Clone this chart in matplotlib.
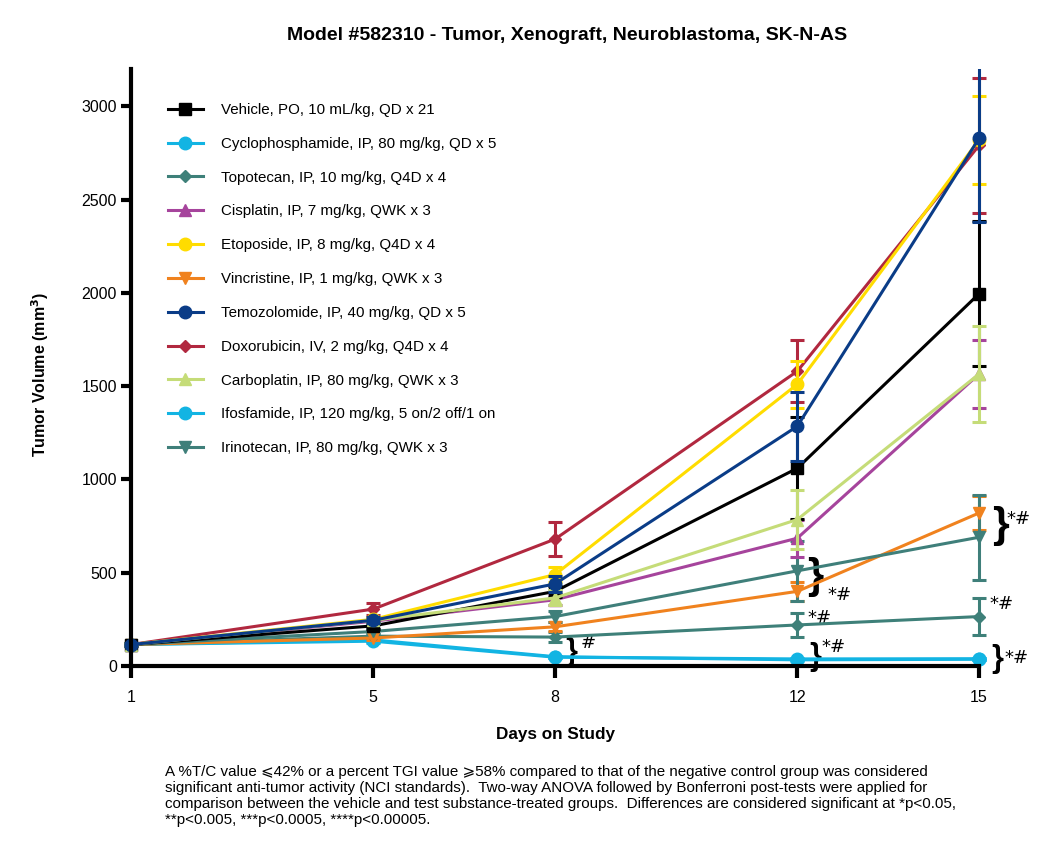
import matplotlib
matplotlib.use("Agg")
import matplotlib.pyplot as plt
from matplotlib.patches import Rectangle

plt.rcParams['font.family'] = ['Liberation Sans', 'DejaVu Sans']

days = [1, 5, 8, 12, 15]

labels = [
    "Vehicle, PO, 10 mL/kg, QD x 21",
    "Cyclophosphamide, IP, 80 mg/kg, QD x 5",
    "Topotecan, IP, 10 mg/kg, Q4D x 4",
    "Cisplatin, IP, 7 mg/kg, QWK x 3",
    "Etoposide, IP, 8 mg/kg, Q4D x 4",
    "Vincristine, IP, 1 mg/kg, QWK x 3",
    "Temozolomide, IP, 40 mg/kg, QD x 5",
    "Doxorubicin, IV, 2 mg/kg, Q4D x 4",
    "Carboplatin, IP, 80 mg/kg, QWK x 3",
    "Ifosfamide, IP, 120 mg/kg, 5 on/2 off/1 on",
    "Irinotecan, IP, 80 mg/kg, QWK x 3",
]

vehicle      = [115, 215, 400, 1060, 1995]
cyclo        = [115, 140, 50, 33, 36]
topotecan    = [115, 160, 155, 220, 265]
cisplatin    = [115, 240, 355, 685, 1565]
etoposide    = [115, 250, 490, 1510, 2820]
vincristine  = [115, 150, 210, 400, 820]
temozolomide = [115, 245, 440, 1285, 2828]
doxorubicin  = [115, 305, 680, 1580, 2790]
carboplatin  = [115, 245, 365, 785, 1565]
ifosfamide   = [115, 133, 47, 38, 39]
irinotecan   = [115, 185, 265, 510, 690]

vehicle_err      = [8, 15, 30, 273, 388]
cyclo_err        = [6, 10, 5, 5, 5]
topotecan_err    = [6, 12, 25, 65, 100]
cisplatin_err    = [6, 15, 30, 100, 180]
etoposide_err    = [6, 15, 40, 125, 236]
vincristine_err  = [6, 10, 25, 50, 90]
temozolomide_err = [6, 15, 45, 185, 446]
doxorubicin_err  = [6, 33, 92, 165, 360]
carboplatin_err  = [6, 15, 40, 160, 255]
ifosfamide_err   = [6, 8, 5, 5, 5]
irinotecan_err   = [6, 12, 30, 160, 228]

series = [vehicle, cyclo, topotecan, cisplatin, etoposide, vincristine,
          temozolomide, doxorubicin, carboplatin, ifosfamide, irinotecan]
errors = [vehicle_err, cyclo_err, topotecan_err, cisplatin_err, etoposide_err,
          vincristine_err, temozolomide_err, doxorubicin_err, carboplatin_err,
          ifosfamide_err, irinotecan_err]

colors = ['#000000', '#12b4e3', '#3e8079', '#a6449c', '#ffdc00', '#f0821e',
          '#0a3c87', '#b1283f', '#c5dc78', '#12b4e3', '#3f7f7a']
markers = ['s', 'o', 'D', '^', 'o', 'v', 'o', 'D', '^', 'o', 'v']
msizes = [9, 9, 6, 9, 9, 9, 9, 6, 9, 9, 9]
zorders = [9, 4, 5, 6, 7, 5, 10, 6, 9.5, 4, 5]

fig = plt.figure(figsize=(10.5, 8.56), dpi=100)
ax = fig.add_axes([131/1050, 1-666/856, (979-131)/1050, (666-69)/856])

clip_rect = Rectangle((-0.05, -0.05), 1.1, 1.05, transform=ax.transAxes,
                      facecolor='none', edgecolor='none')
ax.add_patch(clip_rect)

handles = []
for y, e, c, m, ms, z, lab in zip(series, errors, colors, markers, msizes, zorders, labels):
    cont = ax.errorbar(days, y, yerr=e, color=c, marker=m, markersize=ms, linewidth=2.2,
                       elinewidth=2.2, capsize=5, capthick=2.2, label=lab, zorder=z)
    line, caps, bars = cont.lines
    line.set_clip_on(False)
    for art in list(caps) + list(bars):
        art.set_clip_path(clip_rect)
    handles.append(line)

ax.set_xlim(1, 15)
ax.set_ylim(0, 3200)
ax.set_xticks(days)
ax.set_yticks([0, 500, 1000, 1500, 2000, 2500, 3000])
for s in ['top', 'right']:
    ax.spines[s].set_visible(False)
for s in ['left', 'bottom']:
    ax.spines[s].set_linewidth(3)
    ax.spines[s].set_zorder(20)
ax.tick_params(axis='x', width=3, length=8.6, labelsize=11.5, pad=9, direction='out')
ax.tick_params(axis='y', width=3, length=7.2, labelsize=11.5, pad=3, direction='out')

leg = ax.legend(handles=handles, labels=labels, loc='upper left',
                bbox_to_anchor=(168/1050, 1-103/856),
                bbox_transform=fig.transFigure, frameon=False, fontsize=10.9,
                handlelength=2.3, handletextpad=1.2, labelspacing=1.31,
                borderpad=0, borderaxespad=0)

# significance annotations
br = dict(family='Liberation Sans', ha='center', va='center', fontweight='bold', clip_on=False)
ann = dict(family='DejaVu Sans', ha='left', va='center', fontsize=13, clip_on=False)
ax.text(8.27, 75, '}', fontsize=22, **br)
ax.text(8.43, 125, '#', **ann)
ax.text(12.29, 478, '}', fontsize=30, **br)
ax.text(12.5, 378, '*#', **ann)
ax.text(12.16, 258, '*#', **ann)
ax.text(12.29, 50, '}', fontsize=22, **br)
ax.text(12.4, 102, '*#', **ann)
ax.text(15.35, 752, '}', fontsize=31, **br)
ax.text(15.45, 790, '*#', **ann)
ax.text(15.18, 330, '*#', **ann)
ax.text(15.3, 40, '}', fontsize=22, **br)
ax.text(15.42, 45, '*#', **ann)

fig.text(567/1050, 1-35/856, 'Model #582310 - Tumor, Xenograft, Neuroblastoma, SK-N-AS',
         ha='center', va='center', fontsize=14, fontweight='bold')
fig.text(40/1050, 1-374/856, 'Tumor Volume (mm$^\\mathbf{3}$)', rotation=90,
         ha='center', va='center', fontsize=11.5, fontweight='bold')
fig.text(555/1050, 1-735/856, 'Days on Study', ha='center', va='center',
         fontsize=12.3, fontweight='bold')

note = ("A %T/C value \u2a7d42% or a percent TGI value \u2a7e58% compared to that of the negative control group was considered\n"
        "significant anti-tumor activity (NCI standards).  Two-way ANOVA followed by Bonferroni post-tests were applied for\n"
        "comparison between the vehicle and test substance-treated groups.  Differences are considered significant at *p<0.05,\n"
        "**p<0.005, ***p<0.0005, ****p<0.00005.")
fig.text(165/1050, 1-765/856, note, ha='left', va='top', fontsize=10.9, linespacing=1.17)

fig.savefig('out.png', dpi=100)
